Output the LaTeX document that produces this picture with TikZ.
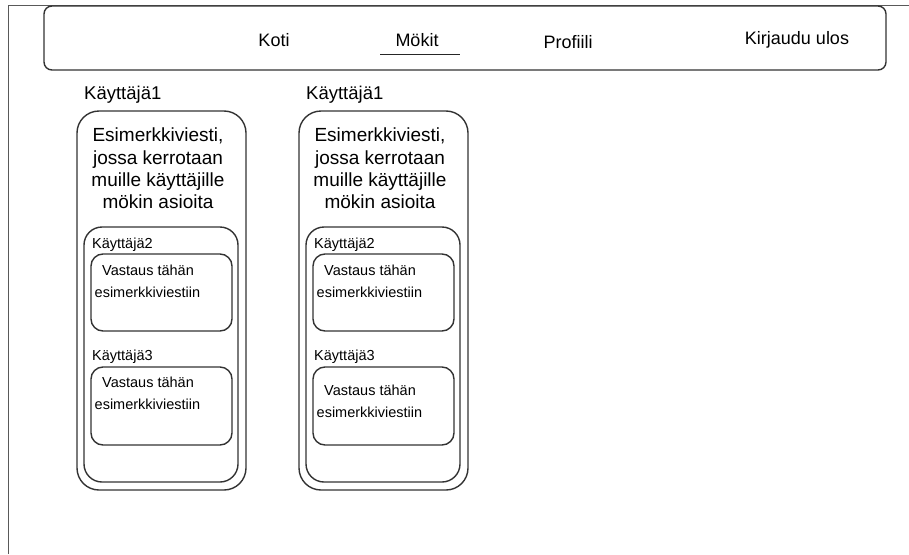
\documentclass[tikz,border=0pt]{standalone}
\usepackage{fontspec}
\setmainfont{Liberation Sans}
\begin{document}
\begin{tikzpicture}[x=1pt,y=-1pt,
    frame/.style={line width=1.4pt,draw=black!80,rounded corners=#1},
    navtext/.style={font=\fontsize{18}{21}\selectfont},
    bigtext/.style={font=\fontsize{19}{22.3}\selectfont,align=center},
    usertext/.style={font=\fontsize{18.5}{21}\selectfont,anchor=west,inner sep=0pt},
    smalltext/.style={font=\fontsize{14.5}{17}\selectfont,anchor=west,inner sep=0pt}]
  \useasboundingbox (0,0) rectangle (909,554);
  \draw[line width=1.6pt,gray!70!black] (8.5,554) -- (8.5,5.5) -- (909,5.5);
  \draw[frame=8pt] (44,6) rectangle (886,70);
  \node[navtext] (koti) at (274,40) {Koti};
  \node[navtext] (mokit) at (417,40) {Mökit};
  \node[navtext] (profiili) at (568,42) {Profiili};
  \node[navtext] (ulos) at (797,40) {Kirjaudu ulos};
  \draw[line width=1.6pt,black!85] (380,54.5) -- (460,54.5);
  \foreach \i/\dx/\ty in {1/0/382,2/222/390} {
    \begin{scope}[xshift=\dx]
      \node[usertext] (user\i) at (84,95) {Käyttäjä1};
      \draw[frame=22pt] (77,111) rectangle (246,490);
      \node[bigtext] (msg\i) at (158,168.5)
        {Esimerkkiviesti,\\jossa kerrotaan\\muille käyttäjille\\mökin asioita};
      \draw[frame=18pt] (84,227) rectangle (238,482);
      \node[smalltext] (usera\i) at (92,245) {Käyttäjä2};
      \draw[frame=12pt] (91,254) rectangle (232,331);
      \node[smalltext] (repa\i) at (102,270) {Vastaus tähän};
      \node[smalltext] (repb\i) at (94.5,292) {esimerkkiviestiin};
      \node[smalltext] (userb\i) at (92,357) {Käyttäjä3};
      \draw[frame=12pt] (91,367) rectangle (232,445);
      \node[smalltext] (repc\i) at (102,\ty) {Vastaus tähän};
      \node[smalltext] (repd\i) at (94.5,\ty+22) {esimerkkiviestiin};
    \end{scope}
  }
\end{tikzpicture}
\end{document}
